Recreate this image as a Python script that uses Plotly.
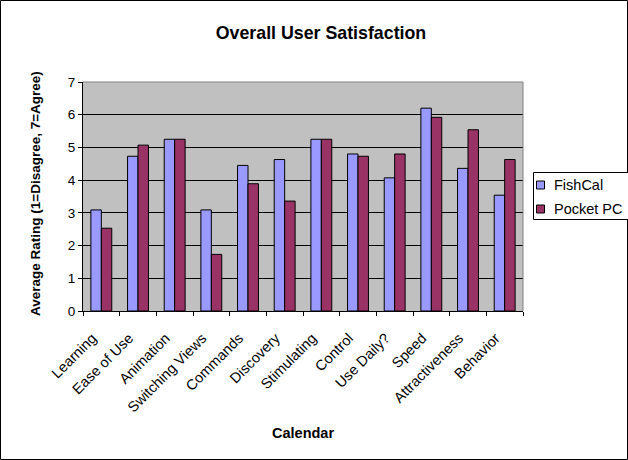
import plotly.graph_objects as go

categories = ["Learning", "Ease of Use", "Animation", "Switching Views", "Commands",
              "Discovery", "Stimulating", "Control", "Use Daily?", "Speed",
              "Attractiveness", "Behavior"]
fishcal = [3.09, 4.73, 5.25, 3.09, 4.45, 4.63, 5.25, 4.80, 4.07, 6.20, 4.36, 3.54]
pocketpc = [2.53, 5.07, 5.25, 1.73, 3.89, 3.36, 5.25, 4.73, 4.80, 5.92, 5.54, 4.63]
series_names = ["FishCal", "Pocket PC"]
series_colors = ["#9999FF", "#993366"]

W, H = 628, 460
L, R, T, B = 83, 523, 82, 311  # plot area in pixels
PW, PH = R - L, B - T
FONT = "Liberation Sans, Arial, sans-serif"

fig = go.Figure()
for name, vals, col in zip(series_names, [fishcal, pocketpc], series_colors):
    fig.add_trace(go.Bar(name=name, x=categories, y=vals, showlegend=False,
                         marker=dict(color=col, line=dict(color="#000000", width=1))))

def px_x(p):
    return (p - L) / PW

def px_y(p):
    return (B - p) / PH

shapes = [
    dict(type="line", xref="paper", yref="paper", x0=0, x1=1, y0=1, y1=1,
         line=dict(color="#808080", width=1), layer="above"),
    dict(type="line", xref="paper", yref="paper", x0=1, x1=1, y0=0, y1=1,
         line=dict(color="#808080", width=1), layer="above"),
    dict(type="rect", xref="paper", yref="paper",
         x0=px_x(0.5), x1=px_x(W - 0.5), y0=px_y(H - 0.5), y1=px_y(0.5),
         line=dict(color="#000000", width=1), layer="below"),
    # legend box
    dict(type="rect", xref="paper", yref="paper",
         x0=px_x(533.5), x1=px_x(W + 5), y0=px_y(219.5), y1=px_y(172.5),
         line=dict(color="#000000", width=1), fillcolor="white", layer="above"),
]
annotations = [
    dict(text="<b>Calendar</b>", xref="paper", yref="paper",
         x=px_x(303), y=px_y(433), xanchor="center", yanchor="middle",
         showarrow=False, font=dict(size=14.5, family=FONT)),
    dict(text="<b>Average Rating (1=Disagree, 7=Agree)</b>", xref="paper", yref="paper",
         x=px_x(35), y=px_y(194), xanchor="center", yanchor="middle",
         textangle=-90, showarrow=False, font=dict(size=13.5, family=FONT)),
]
legend_rows = [185, 209]
for name, col, yc in zip(series_names, series_colors, legend_rows):
    shapes.append(dict(type="rect", xref="paper", yref="paper",
                       x0=px_x(536.5), x1=px_x(544.5), y0=px_y(yc + 4), y1=px_y(yc - 4),
                       line=dict(color="#000000", width=1), fillcolor=col, layer="above"))
    annotations.append(dict(text=name, xref="paper", yref="paper",
                            x=px_x(552), y=px_y(yc), xanchor="left", yanchor="middle",
                            showarrow=False, font=dict(size=14.5, family=FONT)))

fig.update_layout(
    width=W, height=H,
    margin=dict(l=L, r=W - R, t=T, b=H - B),
    paper_bgcolor="white",
    plot_bgcolor="#C0C0C0",
    font=dict(family=FONT, size=14, color="#000000"),
    barmode="group",
    bargap=0.43,
    bargroupgap=0,
    showlegend=False,
    title=dict(text="<b>Overall User Satisfaction</b>", font=dict(size=17.8, family=FONT),
               x=321 / W, xanchor="center", xref="container",
               y=1 - 33 / H, yanchor="middle", yref="container"),
    xaxis=dict(type="category", tickangle=-45, tickson="boundaries",
               ticks="outside", ticklen=4, tickcolor="#000000",
               showline=True, linecolor="#000000", linewidth=1,
               showgrid=False, tickfont=dict(size=14.5, family=FONT),
               ticklabelstandoff=12, ticklabelshift=-9),
    yaxis=dict(range=[0, 7], dtick=1, tick0=0, ticks="outside", ticklen=4,
               tickcolor="#000000", showline=True, linecolor="#000000", linewidth=1,
               showgrid=True, gridcolor="#000000", gridwidth=1, zeroline=False,
               tickfont=dict(size=13.5, family=FONT)),
    shapes=shapes,
    annotations=annotations,
)

fig.write_html("out.html")
